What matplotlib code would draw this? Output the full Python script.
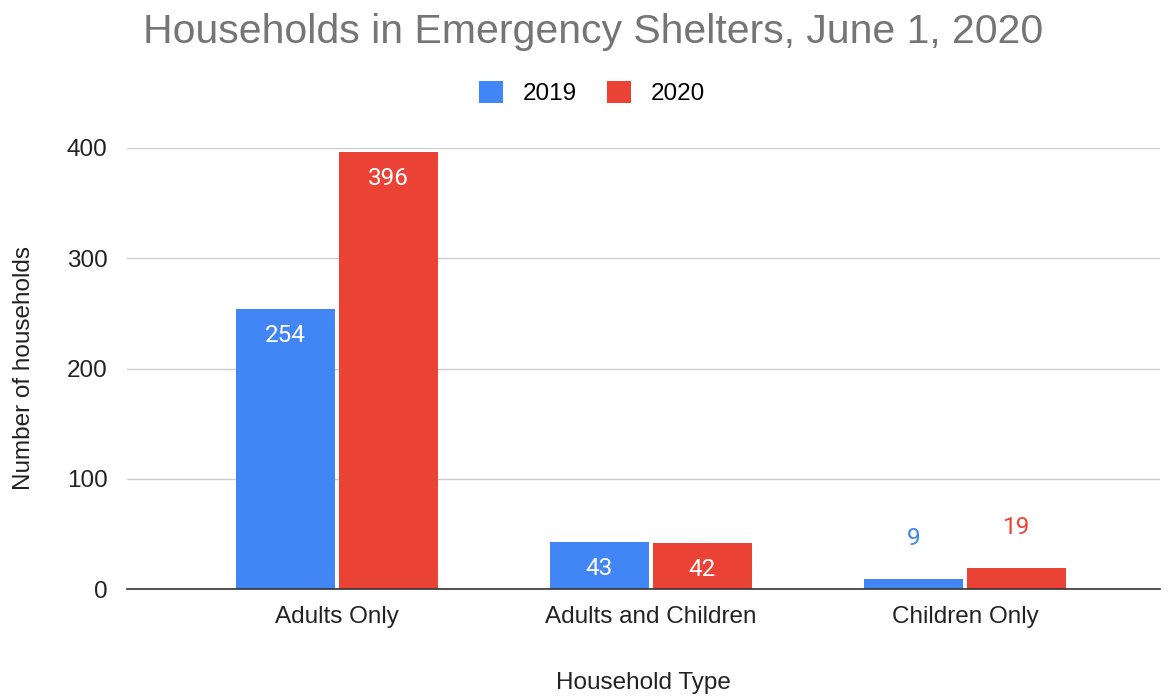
import matplotlib
matplotlib.use("Agg")
import matplotlib.pyplot as plt
import numpy as np

categories = ["Adults Only", "Adults and Children", "Children Only"]
series_names = ["2019", "2020"]
values_2019 = [254, 43, 9]
values_2020 = [396, 42, 19]
yticks = [0, 100, 200, 300, 400]

blue = "#4285F4"
red = "#EA4335"
FS = 17.5

fig = plt.figure(figsize=(11.74, 6.96), dpi=100)
ax = fig.add_axes([127/1174, 1-589/696, (1160-127)/1174, (589-148)/696])

x = np.arange(len(categories))
w = 0.315
off = 0.164
b1 = ax.bar(x - off, values_2019, w, color=blue, label=series_names[0], zorder=3)
b2 = ax.bar(x + off, values_2020, w, color=red, label=series_names[1], zorder=3)

ax.set_xlim(-0.668, 2.621)
ax.set_ylim(0, 400)
ax.set_yticks(yticks)
ax.set_yticklabels([str(t) for t in yticks], fontsize=FS, color="#222222", family="Liberation Sans")
ax.set_xticks(x)
ax.set_xticklabels(categories, fontsize=FS, color="#222222", family="Liberation Sans")
ax.tick_params(axis="y", length=0, pad=14)
ax.tick_params(axis="x", length=0, pad=12)
ax.grid(axis="y", color="#cccccc", linewidth=1, zorder=0)
for s in ["top", "right", "left"]:
    ax.spines[s].set_visible(False)
ax.spines["bottom"].set_color("#333333")
ax.spines["bottom"].set_linewidth(1.2)
ax.spines["bottom"].set_zorder(4)

def label(bars, vals, col):
    for rect, v in zip(bars, vals):
        cx = rect.get_x() + rect.get_width() / 2
        if v > 30:
            ax.text(cx, v - 24, str(v), ha="center", va="center", color="white",
                    fontsize=FS, family="Roboto", zorder=5)
        else:
            ax.text(cx, v + 37, str(v), ha="center", va="center", color=col,
                    fontsize=FS, family="Roboto", zorder=5)

label(b1, values_2019, blue)
label(b2, values_2020, red)

ax.set_xlabel("Household Type", fontsize=FS, color="#222222", family="Liberation Sans", labelpad=32)
ax.set_ylabel("Number of households", fontsize=FS, color="#222222", family="Liberation Sans", labelpad=23)

fig.text(0.505, 1-32/696, "Households in Emergency Shelters, June 1, 2020", ha="center", va="center",
         fontsize=29.5, color="#757575", family="Liberation Sans")

leg = fig.legend(handles=[b1, b2], labels=series_names, loc="center", bbox_to_anchor=(592/1174, 1-93/696),
                 ncol=2, frameon=False, handlelength=1.0, handleheight=1.0,
                 columnspacing=1.25, handletextpad=0.8, prop={"family": "Liberation Sans", "size": FS})

fig.savefig("out.png", dpi=100)
